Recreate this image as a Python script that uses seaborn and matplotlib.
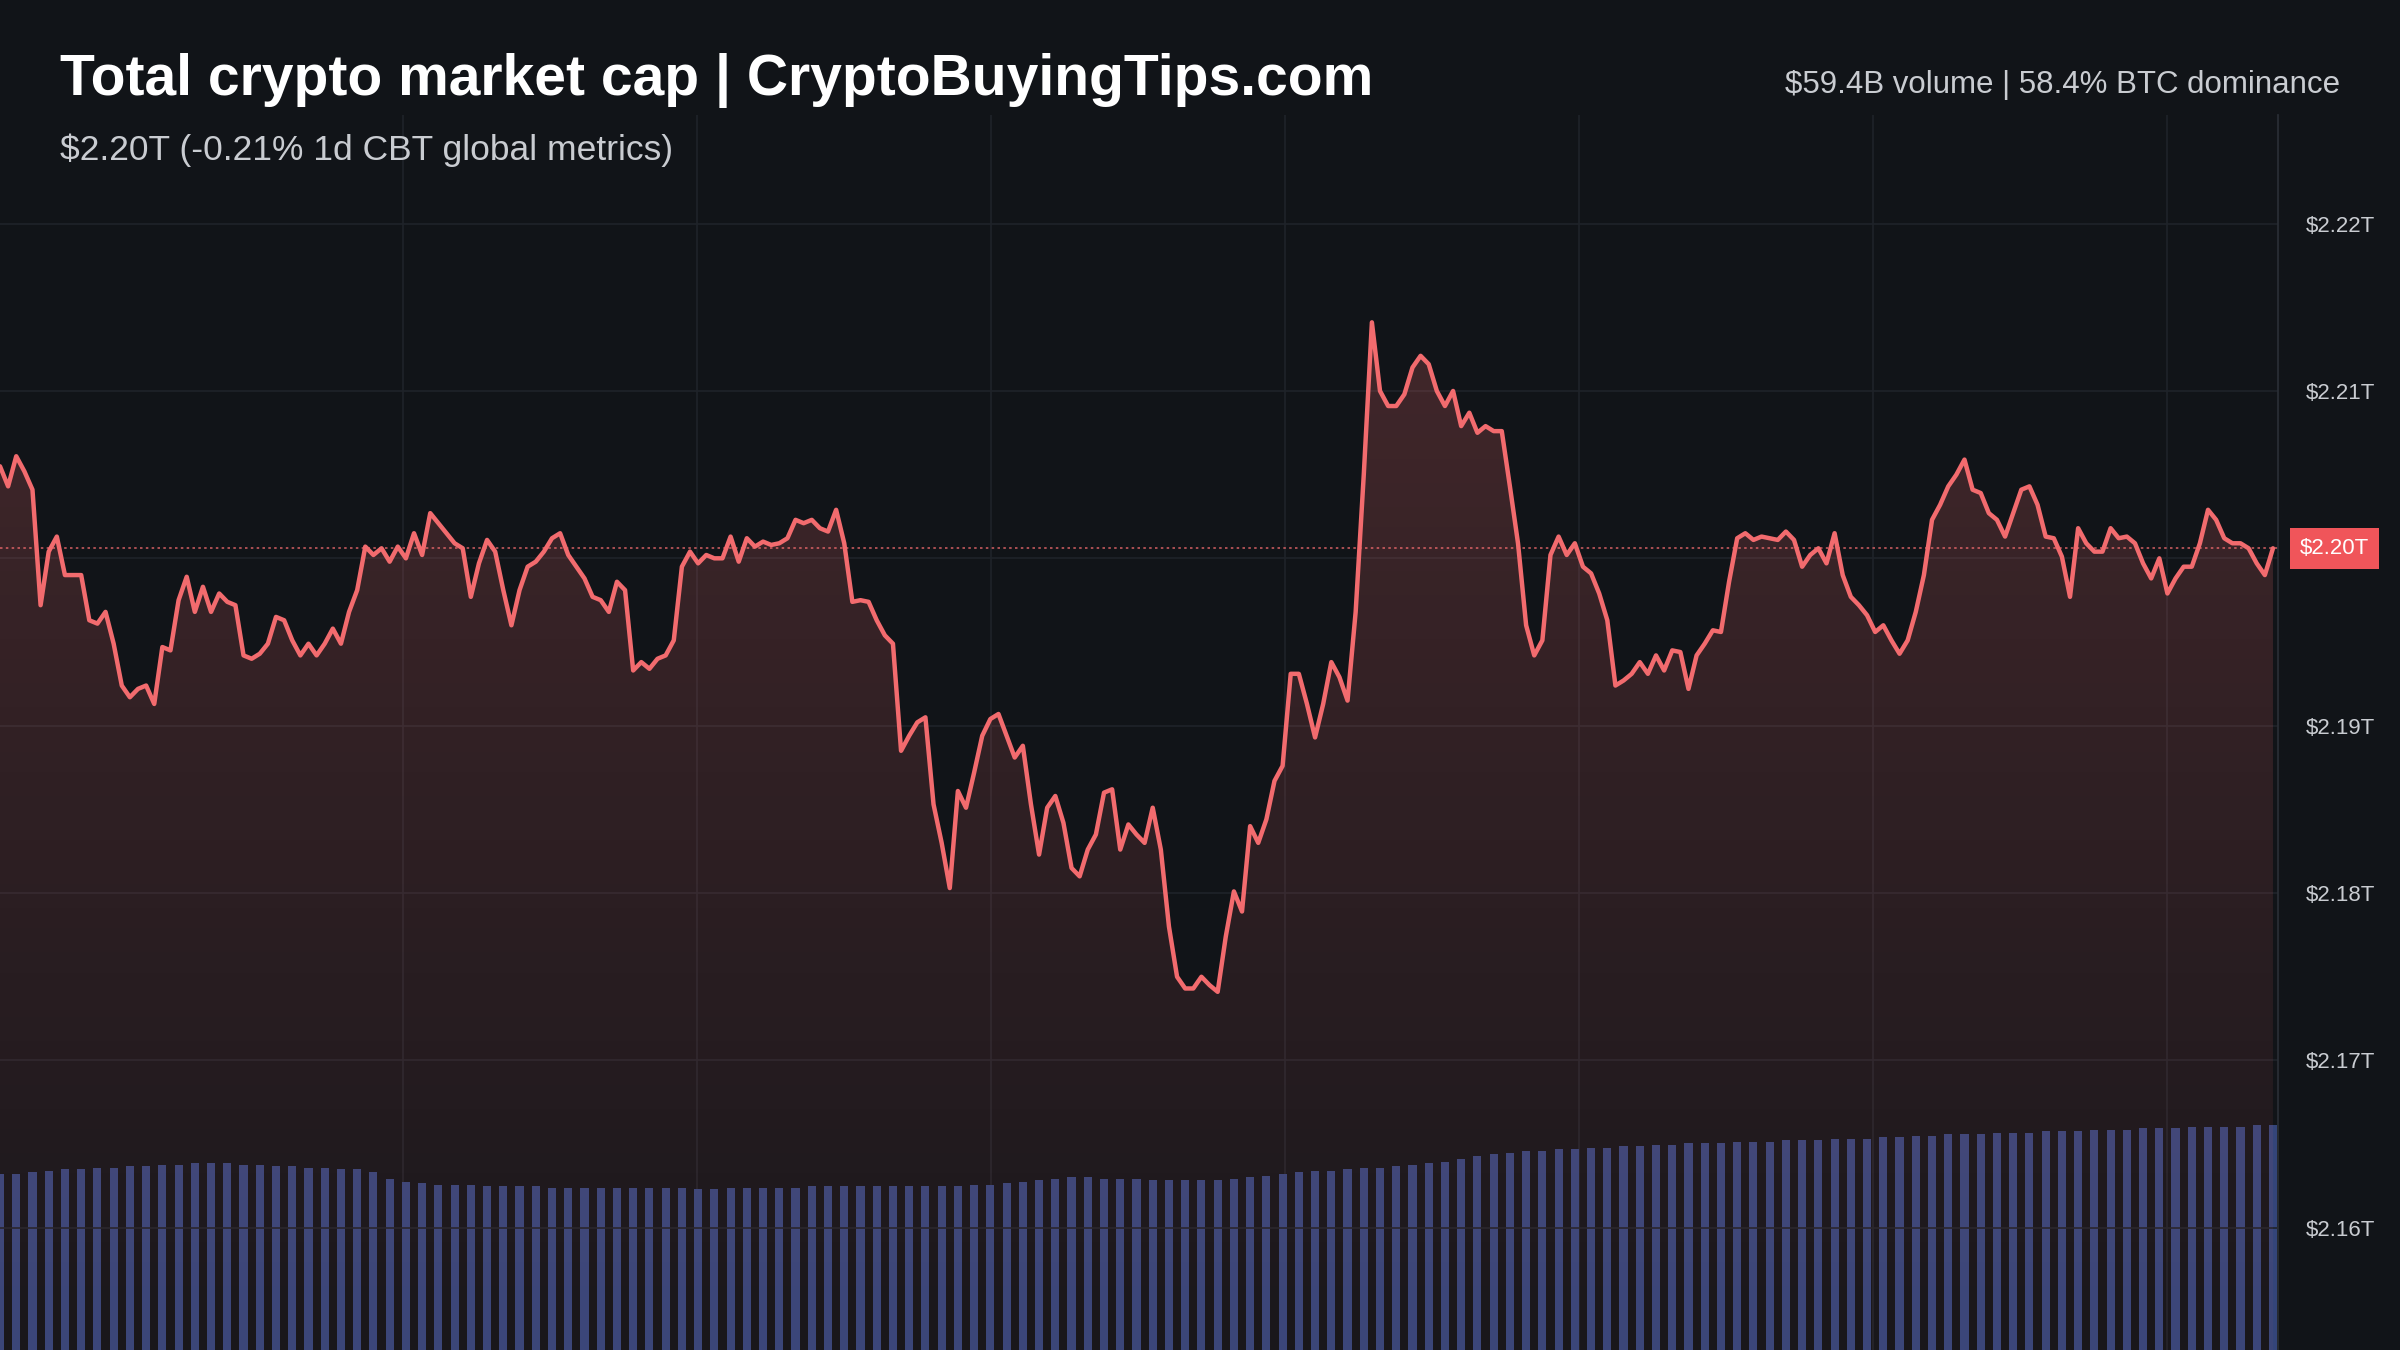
import numpy as np
import matplotlib
matplotlib.use("Agg")
import matplotlib.pyplot as plt
import seaborn as sns
from matplotlib.patches import Polygon

# ---- data (market cap in $B, evenly spaced in time) ----
price = [2205.5,2204.3,2206.1,2205.2,2204.1,2197.2,2200.4,2201.3,2199.0,2199.0,2199.0,2196.3,2196.1,2196.8,2194.9,2192.4,2191.7,2192.2,2192.4,2191.3,
2194.7,2194.5,2197.5,2198.9,2196.8,2198.3,2196.8,2197.9,2197.4,2197.2,2194.2,2194.0,2194.3,2194.9,2196.5,2196.3,2195.1,2194.2,2194.9,2194.2,
2194.9,2195.8,2194.9,2196.8,2198.1,2200.7,2200.2,2200.6,2199.8,2200.7,2200.0,2201.5,2200.2,2202.7,2202.1,2201.5,2200.9,2200.6,2197.7,2199.7,
2201.1,2200.4,2198.1,2196.0,2198.1,2199.5,2199.8,2200.4,2201.2,2201.5,2200.2,2199.5,2198.8,2197.7,2197.5,2196.8,2198.6,2198.1,2193.3,2193.8,
2193.4,2194.0,2194.2,2195.1,2199.5,2200.4,2199.7,2200.2,2200.0,2200.0,2201.3,2199.8,2201.2,2200.7,2201.0,2200.8,2200.9,2201.2,2202.3,2202.1,
2202.3,2201.8,2201.6,2202.9,2200.9,2197.4,2197.5,2197.4,2196.3,2195.4,2194.9,2188.5,2189.4,2190.2,2190.5,2185.3,2183.0,2180.3,2186.1,2185.1,
2187.2,2189.4,2190.4,2190.7,2189.4,2188.1,2188.8,2185.3,2182.3,2185.1,2185.8,2184.2,2181.5,2181.0,2182.6,2183.5,2186.0,2186.2,2182.6,2184.1,
2183.5,2183.0,2185.1,2182.6,2178.0,2175.0,2174.3,2174.3,2175.0,2174.5,2174.1,2177.4,2180.1,2178.9,2184.0,2183.0,2184.4,2186.7,2187.6,2193.1,
2193.1,2191.3,2189.3,2191.3,2193.8,2192.9,2191.5,2196.8,2205.0,2214.1,2210.0,2209.1,2209.1,2209.8,2211.4,2212.1,2211.6,2210.0,2209.1,2210.0,
2207.9,2208.7,2207.5,2207.9,2207.6,2207.6,2204.3,2200.9,2196.0,2194.2,2195.1,2200.2,2201.3,2200.2,2200.9,2199.5,2199.1,2197.9,2196.3,2192.4,
2192.7,2193.1,2193.8,2193.1,2194.2,2193.3,2194.5,2194.4,2192.2,2194.2,2194.9,2195.7,2195.6,2198.6,2201.2,2201.5,2201.1,2201.3,2201.2,2201.1,
2201.6,2201.1,2199.5,2200.2,2200.6,2199.7,2201.5,2199.0,2197.7,2197.2,2196.6,2195.6,2196.0,2195.1,2194.3,2195.1,2196.8,2199.0,2202.3,2203.2,
2204.3,2205.0,2205.9,2204.1,2203.9,2202.7,2202.3,2201.3,2202.7,2204.1,2204.3,2203.2,2201.3,2201.2,2200.1,2197.7,2201.8,2200.9,2200.4,2200.4,
2201.8,2201.2,2201.3,2200.9,2199.7,2198.8,2200.0,2197.9,2198.8,2199.5,2199.5,2200.9,2202.9,2202.3,2201.2,2200.9,2200.9,2200.6,2199.7,2199.0,2200.6]

volume = [115,115,116,117,118,118,119,119,120,120,
121,121,122,122,122,121,121,120,120,119,
119,118,118,116,112,110,109,108,108,108,
107,107,107,107,106,106,106,106,106,106,
106,106,106,105,105,106,106,106,106,106,
107,107,107,107,107,107,107,107,107,107,
108,108,109,110,111,112,113,113,112,112,
112,111,111,111,111,111,112,113,114,115,
116,117,117,118,119,119,120,121,122,123,
125,127,128,129,130,130,131,131,132,132,
133,133,134,134,135,135,135,136,136,136,
137,137,137,138,138,138,139,139,140,140,
141,141,141,142,142,142,143,143,143,144,
144,144,145,145,145,146,146,146,146,147,
147,147,147,147,148,148,148,148,147]

tick_vals = [2160, 2170, 2180, 2190, 2200, 2210, 2220]
tick_labels = ["$2.16T", "$2.17T", "$2.18T", "$2.19T", "$2.20T", "$2.21T", "$2.22T"]

title = "Total crypto market cap | CryptoBuyingTips.com"
subtitle = "$2.20T (-0.21% 1d CBT global metrics)"
right_note = "$59.4B volume | 58.4% BTC dominance"
current_label = "$2.20T"

BG = "#111418"
LINE = "#f26b6e"
VOLC = "#34457a"
GRID = "#1f2329"
TXT = "#c9ccd1"

sns.set_theme(style="dark")
plt.rcParams['font.family'] = ['Liberation Sans', 'DejaVu Sans']

fig = plt.figure(figsize=(24, 13.5), dpi=100, facecolor=BG)
axv = fig.add_axes([0, 0, 1488/1568, 1 - 75/882])
ax = axv.twinx()
ax.set_zorder(axv.get_zorder() + 1)
ax.patch.set_visible(False)
axv.set_facecolor(BG)

n = len(price)
x = np.arange(n)
xmax = (n - 1) * 1488 / 1485
y0, y1 = 2152.7, 2226.5

# volume bars
vx = np.arange(len(volume)) * 2.0
axv.bar(vx, volume, width=1.0, color=VOLC, linewidth=0)
axv.set_ylim(0, 807)
axv.set_xlim(0, xmax)
axv.set_yticks([])
axv.set_xticks(np.arange(49.7, n, 36.2))
axv.tick_params(axis='x', length=0, labelbottom=False)
axv.grid(True, axis='x', color=GRID, linewidth=1.2)
axv.grid(False, axis='y')
for s in axv.spines.values():
    s.set_visible(False)

# gradient fill under line
grad = np.linspace(0.22, 0.04, 256).reshape(-1, 1)
rgba = np.zeros((256, 1, 4))
rgba[..., :3] = matplotlib.colors.to_rgb(LINE)
rgba[..., 3] = grad
im = ax.imshow(rgba, aspect='auto', extent=[0, xmax, y0, max(price)], origin='upper', zorder=1)
poly = Polygon(np.column_stack([np.r_[x, x[-1], 0], np.r_[price, y0, y0]]), closed=True,
               transform=ax.transData, facecolor='none', edgecolor='none')
ax.add_patch(poly)
im.set_clip_path(poly)

sns.lineplot(x=x, y=price, ax=ax, color=LINE, linewidth=3.2, zorder=3)
ax.axhline(price[-1], color=LINE, linestyle=(0, (1.5, 2)), linewidth=1.2, alpha=0.8, zorder=2)

ax.set_xlim(0, xmax)
ax.set_ylim(y0, y1)
ax.set_yticks(tick_vals)
ax.set_yticklabels(tick_labels)
ax.tick_params(axis='y', length=0, labelsize=16, labelcolor=TXT, pad=20)
ax.grid(True, axis='y', color=GRID, linewidth=1.2)
ax.grid(False, axis='x')
ax.set_xlabel("")
ax.set_ylabel("")
for k, s in ax.spines.items():
    s.set_visible(k == 'right')
ax.spines['right'].set_color("#2a2e35")

# current price tag (covers the 2.20 tick label, as in the reference)
fig.text(1525/1568, ax.get_position().y0 + ax.get_position().height * (price[-1] - y0) / (y1 - y0),
         current_label, ha='center', va='center', fontsize=16, color='white', zorder=10,
         bbox=dict(boxstyle='square,pad=0.45', facecolor='#f0555a', edgecolor='none'))

fig.text(60/2400, 1 - 80/1350, title, fontsize=41, fontweight='bold', color='white', va='center')
fig.text(60/2400, 1 - 150/1350, subtitle, fontsize=25.5, color=TXT, va='center')
fig.text(2340/2400, 1 - 85/1350, right_note, fontsize=22.5, color=TXT, va='center', ha='right')

fig.savefig("out.png", dpi=100, facecolor=BG)
